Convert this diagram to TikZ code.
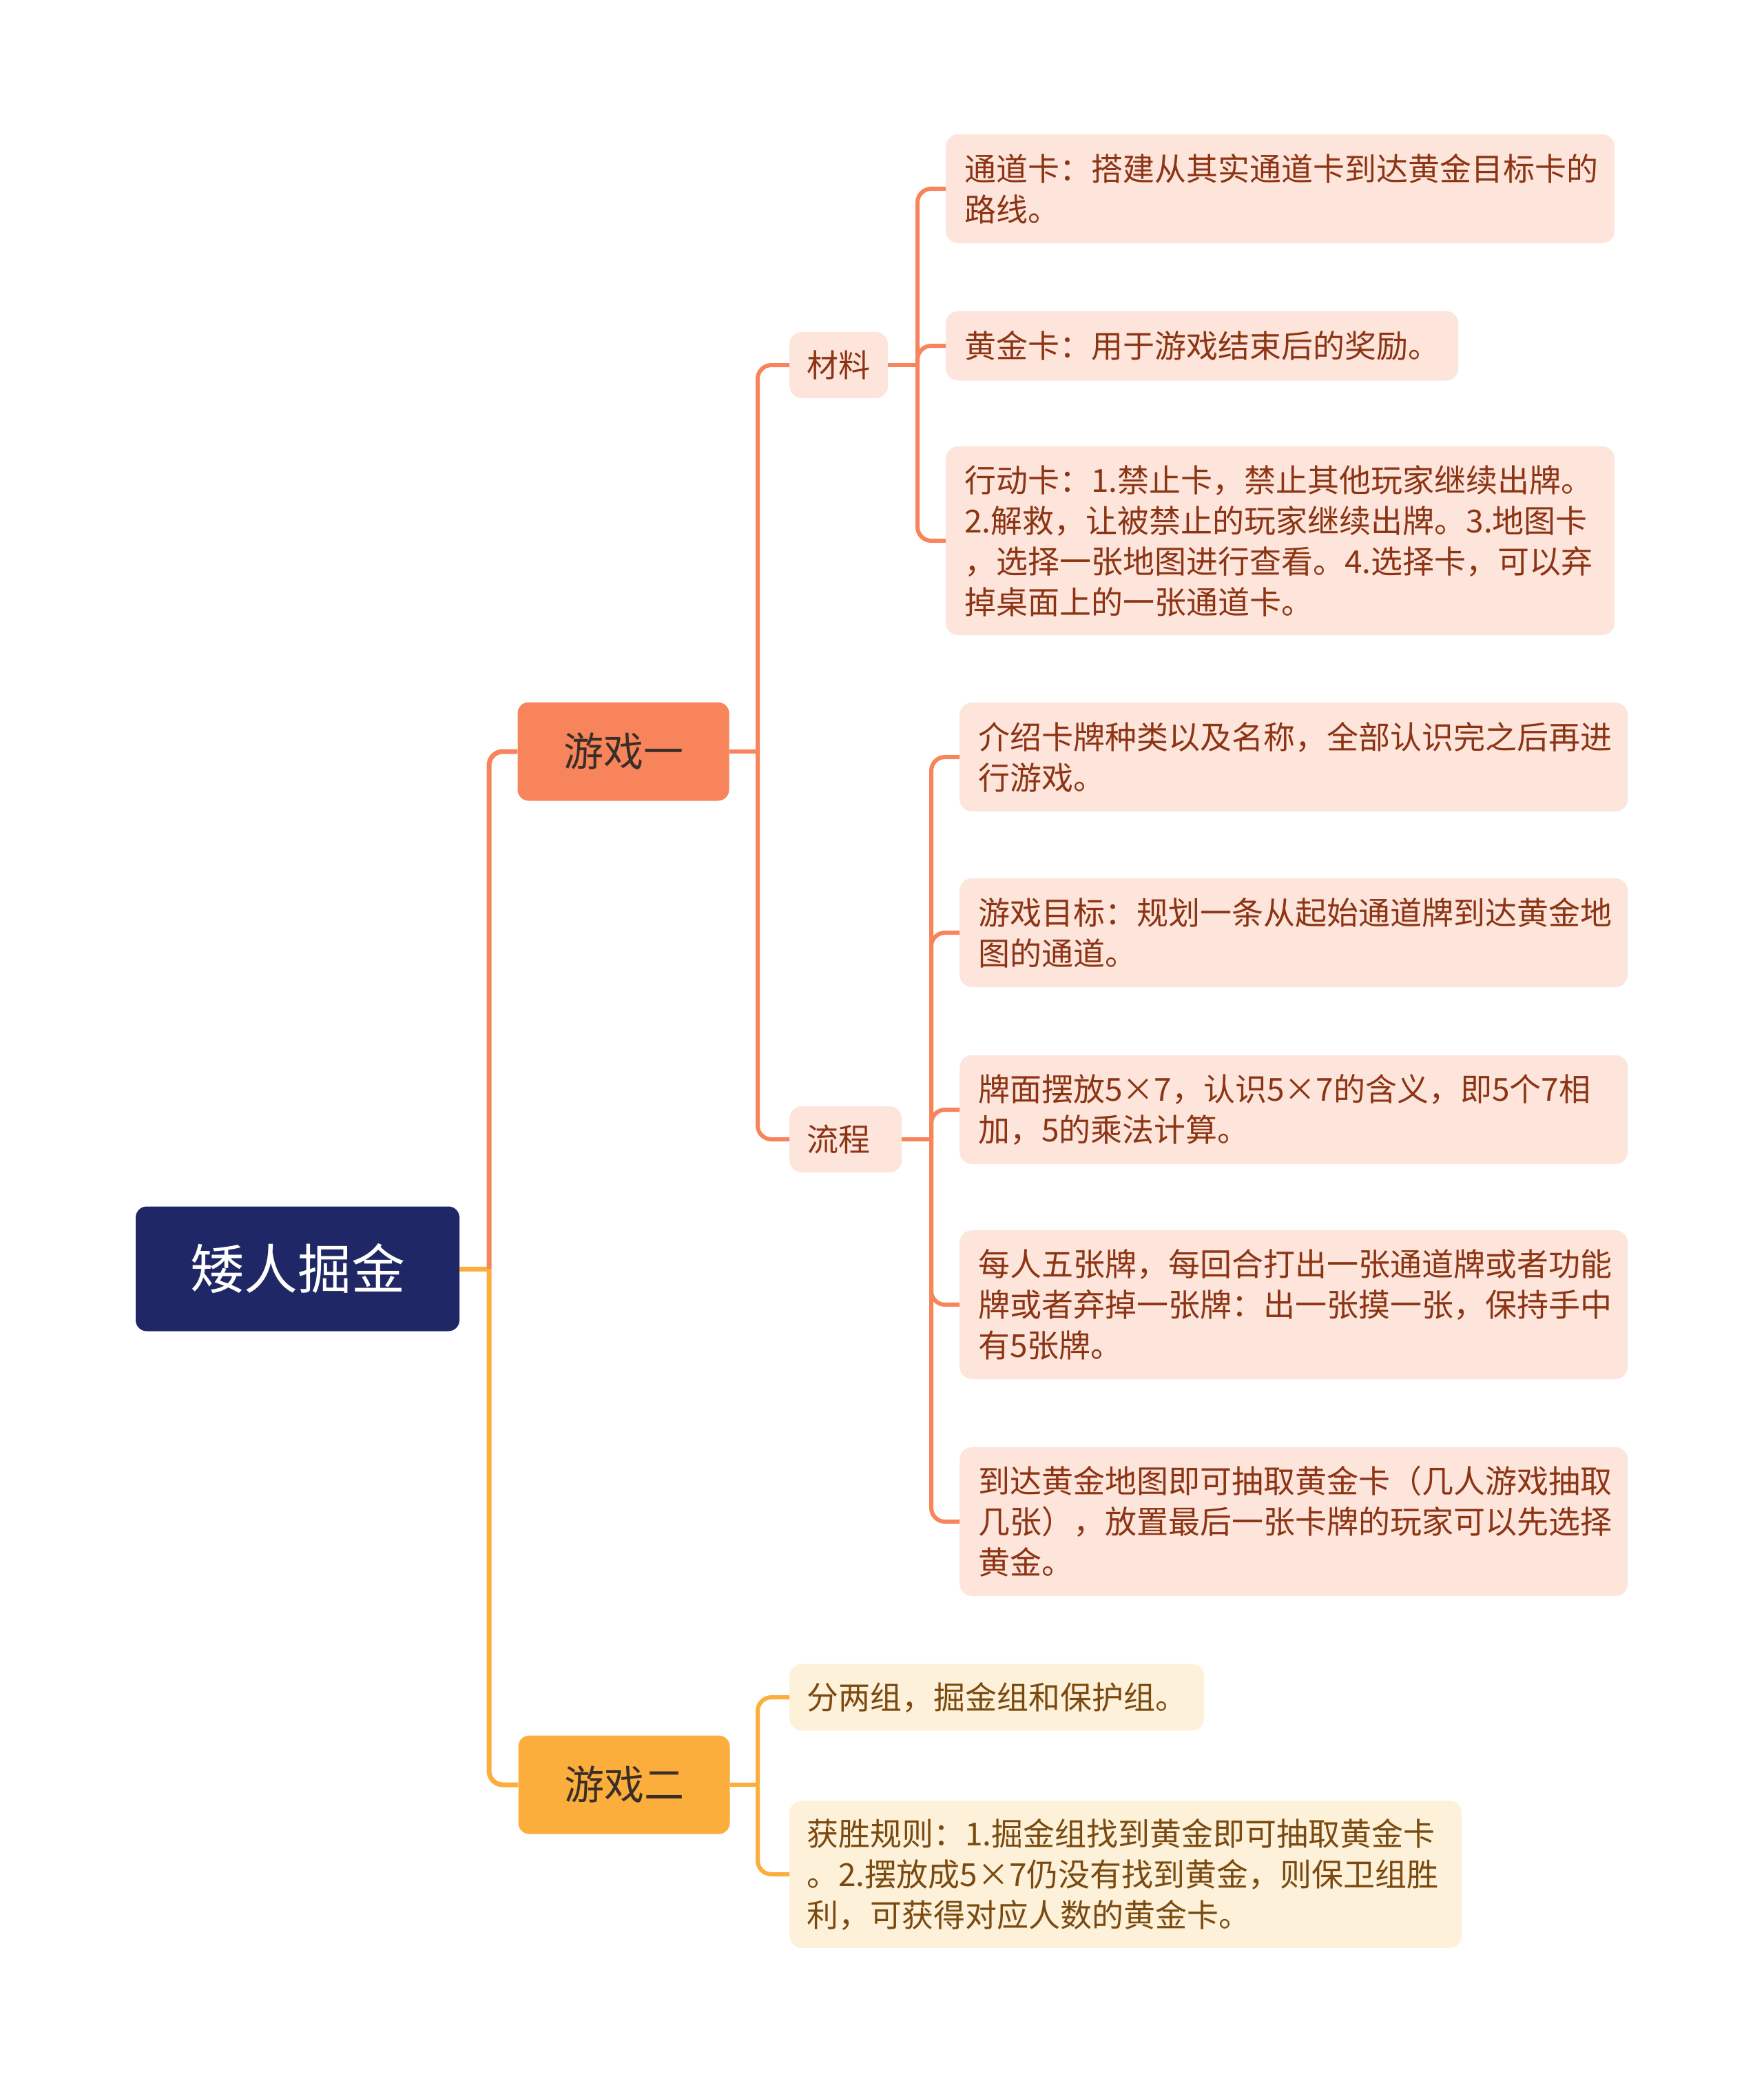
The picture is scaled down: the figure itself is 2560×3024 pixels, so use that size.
\documentclass[tikz,border=0pt]{standalone}
\usepackage{fontspec}
\newfontfamily\cjk{Noto Sans CJK SC}
\definecolor{rootblue}{HTML}{1F2766}
\definecolor{coral}{HTML}{F7845A}
\definecolor{amber}{HTML}{FBAE3C}
\definecolor{pinkbg}{HTML}{FDE5DB}
\definecolor{pinktxt}{HTML}{8C3414}
\definecolor{creambg}{HTML}{FEF1D9}
\definecolor{creamtxt}{HTML}{7A4A10}
\definecolor{darktxt}{HTML}{3A2E28}

\begin{document}
\begin{tikzpicture}[x=1pt, y=-1pt,
    root/.style={fill=rootblue, text=white, rounded corners=16, minimum width=470, minimum height=181, font=\cjk\fontsize{78}{90}\selectfont},
    game/.style={rounded corners=16, text=darktxt, minimum width=307, minimum height=143, font=\cjk\fontsize{58}{70}\selectfont},
    sub/.style={fill=pinkbg, text=pinktxt, rounded corners=18, minimum height=96, anchor=west, font=\cjk\fontsize{46}{59}\selectfont},
    leaf/.style={rounded corners=18, anchor=west, inner xsep=27, align=left, font=\cjk\fontsize{46}{59}\selectfont},
    pinkleaf/.style={leaf, fill=pinkbg, text=pinktxt},
    creamleaf/.style={leaf, fill=creambg, text=creamtxt, inner xsep=25},
    link/.style={line width=6, rounded corners=20}]
    \useasboundingbox (0,0) rectangle (2560,3024);

    % 中心主题
    \node[root] (r) at (432,1842) {矮人掘金};

    % 分支
    \node[game, fill=coral] (g1) at (905,1091) {游戏一};
    \node[game, fill=amber] (g2) at (906,2591) {游戏二};
    \node[sub, minimum width=143] (m) at (1146,530) {材料};
    \node[sub, inner xsep=25, text width=113, align=left] (f) at (1146,1654) {流程};

    % 材料
    \node[pinkleaf, text width=917, minimum height=158] (m1) at (1373,274) {通道卡：搭建从其实通道卡到达黄金目标卡的\\路线。};
    \node[pinkleaf, minimum height=101] (m2) at (1373,502) {黄金卡：用于游戏结束后的奖励。};
    \node[pinkleaf, text width=917, minimum height=274] (m3) at (1373,785) {行动卡：1.禁止卡，禁止其他玩家继续出牌。\\2.解救，让被禁止的玩家继续出牌。3.地图卡\\，选择一张地图进行查看。4.选择卡，可以弃\\掉桌面上的一张通道卡。};

    % 流程
    \node[pinkleaf, text width=916, minimum height=158] (f1) at (1393,1099) {介绍卡牌种类以及名称，全部认识完之后再进\\行游戏。};
    \node[pinkleaf, text width=916, minimum height=158] (f2) at (1393,1354) {游戏目标：规划一条从起始通道牌到达黄金地\\图的通道。};
    \node[pinkleaf, text width=916, minimum height=158] (f3) at (1393,1611) {牌面摆放5×7，认识5×7的含义，即5个7相\\加，5的乘法计算。};
    \node[pinkleaf, text width=916, minimum height=216] (f4) at (1393,1894) {每人五张牌，每回合打出一张通道牌或者功能\\牌或者弃掉一张牌：出一张摸一张，保持手中\\有5张牌。};
    \node[pinkleaf, text width=916, minimum height=216] (f5) at (1393,2209) {到达黄金地图即可抽取黄金卡（几人游戏抽取\\几张），放置最后一张卡牌的玩家可以先选择\\黄金。};

    % 游戏二
    \node[creamleaf, minimum height=97] (q1) at (1146,2464) {分两组，掘金组和保护组。};
    \node[creamleaf, text width=926, minimum height=214] (q2) at (1146,2721) {获胜规则：1.掘金组找到黄金即可抽取黄金卡\\。2.摆放成5×7仍没有找到黄金，则保卫组胜\\利，可获得对应人数的黄金卡。};

    % 连线
    \coordinate (t) at (710,1842);
    \coordinate (tg1) at (1100,1091);
    \coordinate (tg2) at (1100,2591);
    \coordinate (tm) at (1332,530);
    \coordinate (tf) at (1352,1654);

    \draw[link, amber, line width=7] (r.east) -- (t);
    \draw[link, coral, line width=7] (t) |- (g1.west);
    \draw[link, amber, line width=7] (t) |- (g2.west);

    \draw[link, coral] (g1.east) -- (tg1);
    \foreach \n in {m,f} \draw[link, coral] (tg1) |- (\n.west);
    \draw[link, coral] (m.east) -- (tm);
    \foreach \n in {m1,m2,m3} \draw[link, coral] (tm) |- (\n.west);
    \draw[link, coral] (f.east) -- (tf);
    \foreach \n in {f1,f2,f3,f4,f5} \draw[link, coral] (tf) |- (\n.west);

    \draw[link, amber] (g2.east) -- (tg2);
    \foreach \n in {q1,q2} \draw[link, amber] (tg2) |- (\n.west);
\end{tikzpicture}
\end{document}
